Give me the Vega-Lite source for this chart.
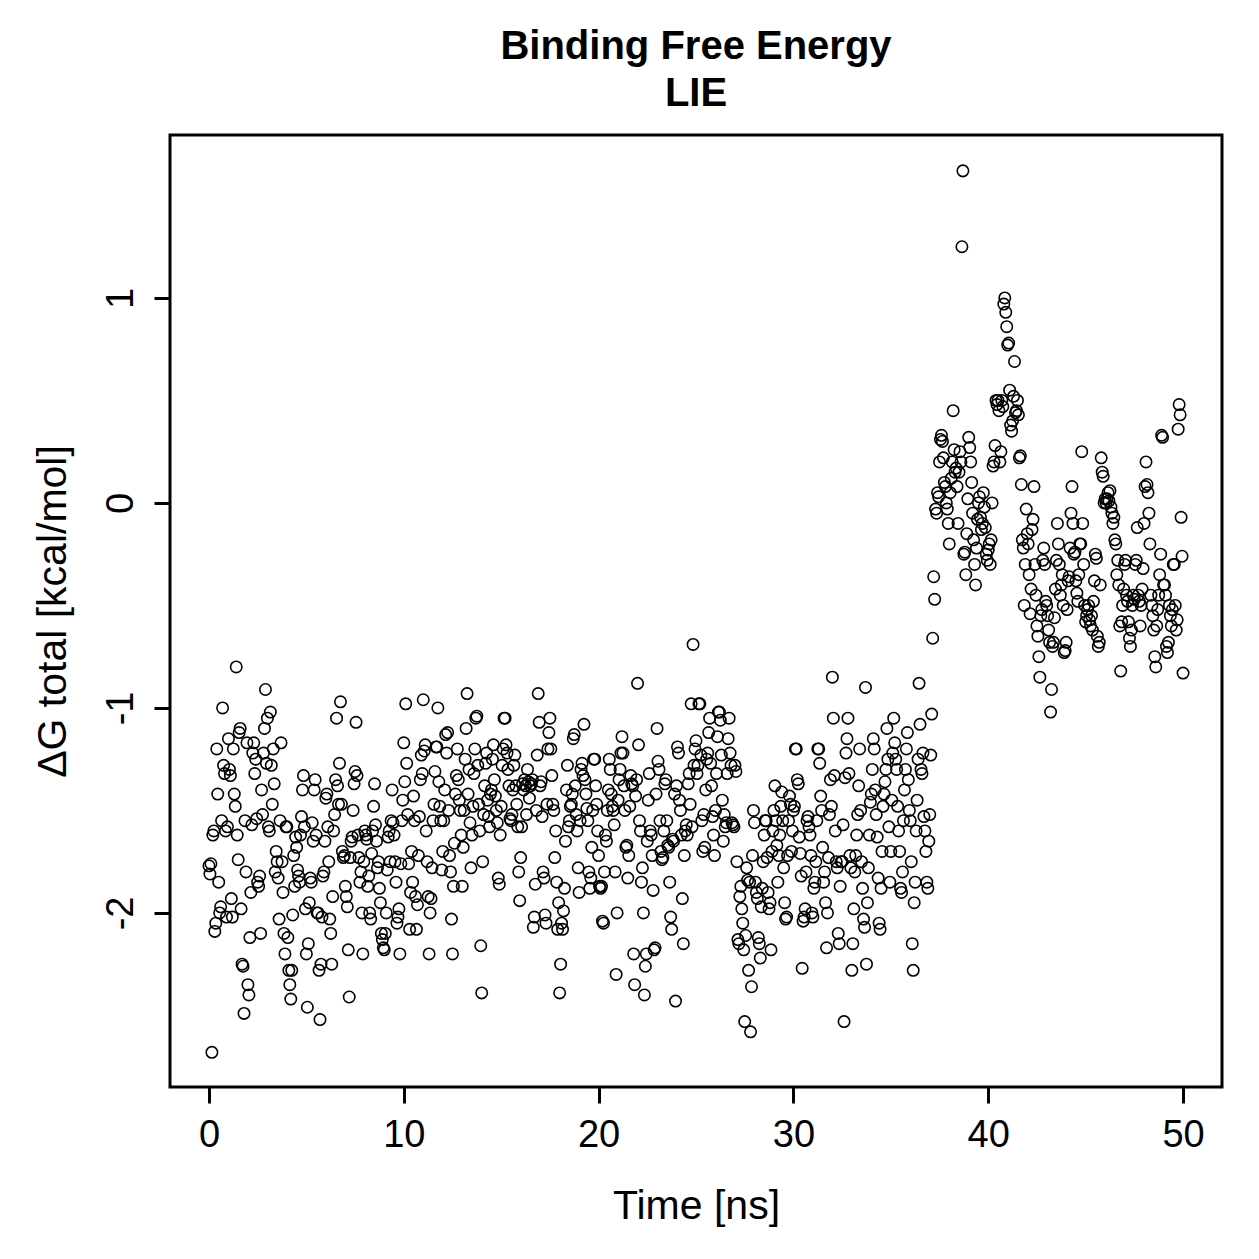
{
"$schema": "https://vega.github.io/schema/vega-lite/v6.json",
"autosize": "none",
"width": 1052,
"height": 952,
"padding": {"left": 170, "top": 135, "right": 37, "bottom": 172},
"background": "white",
"config": {"view": {"stroke": "black", "strokeWidth": 3}, "font": "Liberation Sans"},
"title": {"text": ["Binding Free Energy", "LIE"], "fontSize": 40, "fontWeight": "bold", "font": "Liberation Sans", "color": "black", "anchor": "middle", "frame": "group", "lineHeight": 47, "offset": 21},
"data": {"values": [
{"t":0,"g":-1.77},{"t":0.05,"g":-1.81},{"t":0.1,"g":-1.76},{"t":0.15,"g":-2.68},{"t":0.2,"g":-1.62},{"t":0.25,"g":-1.6},{"t":0.3,"g":-2.09},{"t":0.35,"g":-2.05},{"t":0.4,"g":-1.2},{"t":0.45,"g":-1.42},{"t":0.5,"g":-1.85},{"t":0.55,"g":-2.0},{"t":0.6,"g":-1.97},{"t":0.65,"g":-1.55},{"t":0.7,"g":-1.0},{"t":0.75,"g":-1.28},{"t":0.8,"g":-1.32},{"t":0.85,"g":-1.6},{"t":0.9,"g":-2.02},{"t":0.95,"g":-1.58},
{"t":1,"g":-1.15},{"t":1.05,"g":-1.3},{"t":1.1,"g":-1.33},{"t":1.15,"g":-1.93},{"t":1.2,"g":-2.02},{"t":1.25,"g":-1.2},{"t":1.3,"g":-1.42},{"t":1.35,"g":-1.48},{"t":1.4,"g":-0.8},{"t":1.45,"g":-1.62},{"t":1.5,"g":-1.74},{"t":1.55,"g":-1.12},{"t":1.6,"g":-1.1},{"t":1.65,"g":-1.98},{"t":1.7,"g":-2.25},{"t":1.75,"g":-2.26},{"t":1.8,"g":-2.49},{"t":1.85,"g":-1.55},{"t":1.9,"g":-1.8},{"t":1.95,"g":-1.17},
{"t":2,"g":-2.35},{"t":2.05,"g":-2.4},{"t":2.1,"g":-2.12},{"t":2.15,"g":-1.9},{"t":2.2,"g":-1.57},{"t":2.25,"g":-1.22},{"t":2.3,"g":-1.17},{"t":2.35,"g":-1.32},{"t":2.4,"g":-1.25},{"t":2.45,"g":-1.54},{"t":2.5,"g":-1.85},{"t":2.55,"g":-1.87},{"t":2.6,"g":-1.82},{"t":2.65,"g":-2.1},{"t":2.7,"g":-1.4},{"t":2.75,"g":-1.52},{"t":2.8,"g":-1.22},{"t":2.85,"g":-1.1},{"t":2.9,"g":-0.91},{"t":2.95,"g":-1.27},
{"t":3,"g":-1.05},{"t":3.05,"g":-1.58},{"t":3.1,"g":-1.6},{"t":3.15,"g":-1.02},{"t":3.2,"g":-1.28},{"t":3.25,"g":-1.47},{"t":3.3,"g":-1.2},{"t":3.35,"g":-1.37},{"t":3.4,"g":-1.8},{"t":3.45,"g":-1.7},{"t":3.5,"g":-1.75},{"t":3.55,"g":-1.83},{"t":3.6,"g":-2.03},{"t":3.65,"g":-1.55},{"t":3.7,"g":-1.17},{"t":3.75,"g":-1.75},{"t":3.8,"g":-1.9},{"t":3.85,"g":-2.1},{"t":3.9,"g":-2.2},{"t":3.95,"g":-1.58},
{"t":4,"g":-1.58},{"t":4.05,"g":-2.12},{"t":4.1,"g":-2.28},{"t":4.15,"g":-2.35},{"t":4.2,"g":-2.42},{"t":4.25,"g":-2.28},{"t":4.3,"g":-2.01},{"t":4.35,"g":-1.72},{"t":4.4,"g":-1.87},{"t":4.45,"g":-1.63},{"t":4.5,"g":-1.68},{"t":4.55,"g":-1.79},{"t":4.6,"g":-1.82},{"t":4.65,"g":-1.85},{"t":4.7,"g":-1.62},{"t":4.75,"g":-1.53},{"t":4.8,"g":-1.4},{"t":4.85,"g":-1.33},{"t":4.9,"g":-1.58},{"t":4.95,"g":-1.98},
{"t":5,"g":-2.2},{"t":5.05,"g":-2.46},{"t":5.1,"g":-2.15},{"t":5.15,"g":-1.95},{"t":5.2,"g":-1.83},{"t":5.25,"g":-1.85},{"t":5.3,"g":-1.56},{"t":5.35,"g":-1.65},{"t":5.4,"g":-1.4},{"t":5.45,"g":-1.35},{"t":5.5,"g":-1.62},{"t":5.55,"g":-2.0},{"t":5.6,"g":-2.0},{"t":5.65,"g":-2.28},{"t":5.7,"g":-2.52},{"t":5.75,"g":-2.25},{"t":5.8,"g":-2.02},{"t":5.85,"g":-1.82},{"t":5.9,"g":-1.8},{"t":5.95,"g":-1.65},
{"t":6,"g":-1.44},{"t":6.05,"g":-1.42},{"t":6.1,"g":-1.58},{"t":6.15,"g":-1.75},{"t":6.2,"g":-2.03},{"t":6.25,"g":-2.1},{"t":6.3,"g":-2.25},{"t":6.35,"g":-1.92},{"t":6.4,"g":-1.6},{"t":6.45,"g":-1.52},{"t":6.5,"g":-1.35},{"t":6.55,"g":-1.05},{"t":6.6,"g":-1.38},{"t":6.65,"g":-1.47},{"t":6.7,"g":-1.27},{"t":6.75,"g":-0.97},{"t":6.8,"g":-1.47},{"t":6.85,"g":-1.7},{"t":6.9,"g":-1.73},{"t":6.95,"g":-1.72},
{"t":7,"g":-1.87},{"t":7.05,"g":-1.92},{"t":7.1,"g":-1.97},{"t":7.15,"g":-2.18},{"t":7.2,"g":-2.41},{"t":7.25,"g":-1.73},{"t":7.3,"g":-1.65},{"t":7.35,"g":-1.63},{"t":7.4,"g":-1.5},{"t":7.45,"g":-1.37},{"t":7.5,"g":-1.31},{"t":7.55,"g":-1.07},{"t":7.6,"g":-1.33},{"t":7.65,"g":-1.62},{"t":7.7,"g":-1.73},{"t":7.75,"g":-1.85},{"t":7.8,"g":-1.8},{"t":7.85,"g":-2.0},{"t":7.9,"g":-2.2},{"t":7.95,"g":-1.75},
{"t":8,"g":-1.6},{"t":8.05,"g":-1.62},{"t":8.1,"g":-1.64},{"t":8.15,"g":-1.87},{"t":8.2,"g":-1.82},{"t":8.25,"g":-2.0},{"t":8.3,"g":-2.03},{"t":8.35,"g":-1.71},{"t":8.4,"g":-1.6},{"t":8.45,"g":-1.48},{"t":8.5,"g":-1.37},{"t":8.55,"g":-1.57},{"t":8.6,"g":-1.65},{"t":8.65,"g":-1.78},{"t":8.7,"g":-1.75},{"t":8.75,"g":-1.88},{"t":8.8,"g":-1.95},{"t":8.85,"g":-2.1},{"t":8.9,"g":-2.13},{"t":8.95,"g":-2.17},
{"t":9,"g":-2.18},{"t":9.05,"g":-2.1},{"t":9.1,"g":-2.0},{"t":9.15,"g":-1.79},{"t":9.2,"g":-1.63},{"t":9.25,"g":-1.6},{"t":9.3,"g":-1.75},{"t":9.35,"g":-1.55},{"t":9.4,"g":-1.4},{"t":9.45,"g":-1.56},{"t":9.5,"g":-1.62},{"t":9.55,"g":-1.75},{"t":9.6,"g":-1.85},{"t":9.65,"g":-2.05},{"t":9.7,"g":-2.02},{"t":9.75,"g":-1.98},{"t":9.8,"g":-2.2},{"t":9.85,"g":-1.76},{"t":9.9,"g":-1.55},{"t":9.95,"g":-1.45},
{"t":10,"g":-1.17},{"t":10.05,"g":-1.36},{"t":10.1,"g":-0.98},{"t":10.15,"g":-1.27},{"t":10.2,"g":-1.52},{"t":10.25,"g":-1.76},{"t":10.3,"g":-2.08},{"t":10.35,"g":-1.9},{"t":10.4,"g":-1.7},{"t":10.45,"g":-1.85},{"t":10.5,"g":-1.43},{"t":10.55,"g":-1.55},{"t":10.6,"g":-1.92},{"t":10.65,"g":-2.08},{"t":10.7,"g":-1.96},{"t":10.75,"g":-1.72},{"t":10.8,"g":-1.53},{"t":10.85,"g":-1.35},{"t":10.9,"g":-1.23},{"t":10.95,"g":-1.32},
{"t":11,"g":-0.96},{"t":11.05,"g":-1.21},{"t":11.1,"g":-1.18},{"t":11.15,"g":-1.6},{"t":11.2,"g":-1.75},{"t":11.25,"g":-1.92},{"t":11.3,"g":-2.2},{"t":11.35,"g":-2.0},{"t":11.4,"g":-1.93},{"t":11.45,"g":-1.78},{"t":11.5,"g":-1.55},{"t":11.55,"g":-1.47},{"t":11.6,"g":-1.31},{"t":11.65,"g":-1.19},{"t":11.7,"g":-1.19},{"t":11.75,"g":-1.0},{"t":11.8,"g":-1.36},{"t":11.85,"g":-1.48},{"t":11.9,"g":-1.55},{"t":11.95,"g":-1.79},
{"t":12,"g":-1.7},{"t":12.05,"g":-1.55},{"t":12.1,"g":-1.4},{"t":12.15,"g":-1.13},{"t":12.2,"g":-1.22},{"t":12.25,"g":-1.12},{"t":12.3,"g":-1.5},{"t":12.35,"g":-1.72},{"t":12.4,"g":-1.8},{"t":12.45,"g":-2.03},{"t":12.5,"g":-2.2},{"t":12.55,"g":-1.87},{"t":12.6,"g":-1.66},{"t":12.65,"g":-1.42},{"t":12.7,"g":-1.33},{"t":12.75,"g":-1.2},{"t":12.8,"g":-1.35},{"t":12.85,"g":-1.45},{"t":12.9,"g":-1.5},{"t":12.95,"g":-1.62},
{"t":13,"g":-1.87},{"t":13.05,"g":-1.68},{"t":13.1,"g":-1.5},{"t":13.15,"g":-1.25},{"t":13.2,"g":-1.1},{"t":13.25,"g":-0.93},{"t":13.3,"g":-1.42},{"t":13.35,"g":-1.3},{"t":13.4,"g":-1.56},{"t":13.45,"g":-1.78},{"t":13.5,"g":-1.62},{"t":13.55,"g":-1.48},{"t":13.6,"g":-1.32},{"t":13.65,"g":-1.2},{"t":13.7,"g":-1.05},{"t":13.75,"g":-1.04},{"t":13.8,"g":-1.28},{"t":13.85,"g":-1.47},{"t":13.9,"g":-1.6},{"t":13.95,"g":-2.16},
{"t":14,"g":-2.39},{"t":14.05,"g":-1.75},{"t":14.1,"g":-1.52},{"t":14.15,"g":-1.38},{"t":14.2,"g":-1.27},{"t":14.25,"g":-1.22},{"t":14.3,"g":-1.45},{"t":14.35,"g":-1.53},{"t":14.4,"g":-1.58},{"t":14.45,"g":-1.42},{"t":14.5,"g":-1.4},{"t":14.55,"g":-1.25},{"t":14.6,"g":-1.18},{"t":14.65,"g":-1.35},{"t":14.7,"g":-1.43},{"t":14.75,"g":-1.5},{"t":14.8,"g":-1.56},{"t":14.85,"g":-1.83},{"t":14.9,"g":-1.86},{"t":14.95,"g":-1.62},
{"t":15,"g":-1.48},{"t":15.05,"g":-1.28},{"t":15.1,"g":-1.2},{"t":15.15,"g":-1.05},{"t":15.2,"g":-1.05},{"t":15.25,"g":-1.18},{"t":15.3,"g":-1.22},{"t":15.35,"g":-1.3},{"t":15.4,"g":-1.38},{"t":15.45,"g":-1.54},{"t":15.5,"g":-1.55},{"t":15.55,"g":-1.52},{"t":15.6,"g":-1.4},{"t":15.65,"g":-1.28},{"t":15.7,"g":-1.23},{"t":15.75,"g":-1.38},{"t":15.8,"g":-1.47},{"t":15.85,"g":-1.58},{"t":15.9,"g":-1.8},{"t":15.95,"g":-1.94},
{"t":16,"g":-1.73},{"t":16.05,"g":-1.58},{"t":16.1,"g":-1.37},{"t":16.15,"g":-1.4},{"t":16.2,"g":-1.35},{"t":16.25,"g":-1.38},{"t":16.3,"g":-1.52},{"t":16.35,"g":-1.3},{"t":16.4,"g":-1.36},{"t":16.45,"g":-1.44},{"t":16.5,"g":-1.38},{"t":16.55,"g":-1.37},{"t":16.6,"g":-1.35},{"t":16.65,"g":-2.07},{"t":16.7,"g":-2.02},{"t":16.75,"g":-1.86},{"t":16.8,"g":-1.5},{"t":16.85,"g":-1.23},{"t":16.9,"g":-0.93},{"t":16.95,"g":-1.07},
{"t":17,"g":-1.38},{"t":17.05,"g":-1.36},{"t":17.1,"g":-1.53},{"t":17.15,"g":-1.8},{"t":17.2,"g":-1.83},{"t":17.25,"g":-2.01},{"t":17.3,"g":-2.05},{"t":17.35,"g":-1.47},{"t":17.4,"g":-1.2},{"t":17.45,"g":-1.12},{"t":17.5,"g":-1.05},{"t":17.55,"g":-1.2},{"t":17.6,"g":-1.33},{"t":17.65,"g":-1.47},{"t":17.7,"g":-1.5},{"t":17.75,"g":-1.73},{"t":17.8,"g":-1.6},{"t":17.85,"g":-1.85},{"t":17.9,"g":-2.08},{"t":17.95,"g":-1.95},
{"t":18,"g":-2.39},{"t":18.05,"g":-2.25},{"t":18.1,"g":-2.05},{"t":18.15,"g":-2.08},{"t":18.2,"g":-1.99},{"t":18.25,"g":-1.88},{"t":18.3,"g":-1.65},{"t":18.35,"g":-1.4},{"t":18.4,"g":-1.28},{"t":18.45,"g":-1.58},{"t":18.5,"g":-1.55},{"t":18.55,"g":-1.48},{"t":18.6,"g":-1.47},{"t":18.65,"g":-1.42},{"t":18.7,"g":-1.15},{"t":18.75,"g":-1.13},{"t":18.8,"g":-1.38},{"t":18.85,"g":-1.52},{"t":18.9,"g":-1.6},{"t":18.95,"g":-1.78},
{"t":19,"g":-1.9},{"t":19.05,"g":-1.55},{"t":19.1,"g":-1.3},{"t":19.15,"g":-1.27},{"t":19.2,"g":-1.33},{"t":19.25,"g":-1.08},{"t":19.3,"g":-1.35},{"t":19.35,"g":-1.42},{"t":19.4,"g":-1.49},{"t":19.45,"g":-1.55},{"t":19.5,"g":-1.8},{"t":19.55,"g":-1.88},{"t":19.6,"g":-1.83},{"t":19.65,"g":-1.68},{"t":19.7,"g":-1.5},{"t":19.75,"g":-1.25},{"t":19.8,"g":-1.25},{"t":19.85,"g":-1.38},{"t":19.9,"g":-1.47},{"t":19.95,"g":-1.6},
{"t":20,"g":-1.72},{"t":20.05,"g":-1.87},{"t":20.1,"g":-1.88},{"t":20.15,"g":-1.87},{"t":20.2,"g":-2.04},{"t":20.25,"g":-2.05},{"t":20.3,"g":-1.8},{"t":20.35,"g":-1.62},{"t":20.4,"g":-1.65},{"t":20.45,"g":-1.5},{"t":20.5,"g":-1.4},{"t":20.55,"g":-1.25},{"t":20.6,"g":-1.3},{"t":20.65,"g":-1.42},{"t":20.7,"g":-1.48},{"t":20.75,"g":-1.5},{"t":20.8,"g":-1.57},{"t":20.85,"g":-1.8},{"t":20.9,"g":-2.3},{"t":20.95,"g":-2.0},
{"t":21,"g":-1.45},{"t":21.05,"g":-1.35},{"t":21.1,"g":-1.3},{"t":21.15,"g":-1.22},{"t":21.2,"g":-1.14},{"t":21.25,"g":-1.22},{"t":21.3,"g":-1.38},{"t":21.35,"g":-1.5},{"t":21.4,"g":-1.68},{"t":21.45,"g":-1.67},{"t":21.5,"g":-1.83},{"t":21.55,"g":-1.72},{"t":21.6,"g":-1.48},{"t":21.65,"g":-1.33},{"t":21.7,"g":-1.37},{"t":21.75,"g":-1.38},{"t":21.8,"g":-2.2},{"t":21.85,"g":-2.35},{"t":21.9,"g":-1.43},{"t":21.95,"g":-1.35},
{"t":22,"g":-0.88},{"t":22.05,"g":-1.18},{"t":22.1,"g":-1.55},{"t":22.15,"g":-1.6},{"t":22.2,"g":-1.85},{"t":22.25,"g":-1.78},{"t":22.3,"g":-2.0},{"t":22.35,"g":-2.4},{"t":22.4,"g":-2.26},{"t":22.45,"g":-2.2},{"t":22.5,"g":-1.65},{"t":22.55,"g":-1.45},{"t":22.6,"g":-1.32},{"t":22.65,"g":-1.6},{"t":22.7,"g":-1.62},{"t":22.75,"g":-1.72},{"t":22.8,"g":-1.89},{"t":22.85,"g":-2.18},{"t":22.9,"g":-2.17},{"t":22.95,"g":-1.42},
{"t":23,"g":-1.1},{"t":23.05,"g":-1.26},{"t":23.1,"g":-1.3},{"t":23.15,"g":-1.55},{"t":23.2,"g":-1.7},{"t":23.25,"g":-1.74},{"t":23.3,"g":-1.73},{"t":23.35,"g":-1.6},{"t":23.4,"g":-1.37},{"t":23.45,"g":-1.35},{"t":23.5,"g":-1.55},{"t":23.55,"g":-1.67},{"t":23.6,"g":-1.68},{"t":23.65,"g":-1.85},{"t":23.7,"g":-2.02},{"t":23.75,"g":-2.08},{"t":23.8,"g":-1.64},{"t":23.85,"g":-1.65},{"t":23.9,"g":-1.42},{"t":23.95,"g":-2.43},
{"t":24,"g":-1.38},{"t":24.05,"g":-1.19},{"t":24.1,"g":-1.22},{"t":24.15,"g":-1.45},{"t":24.2,"g":-1.5},{"t":24.25,"g":-1.62},{"t":24.3,"g":-1.93},{"t":24.35,"g":-2.15},{"t":24.4,"g":-1.72},{"t":24.45,"g":-1.6},{"t":24.5,"g":-1.57},{"t":24.55,"g":-1.62},{"t":24.6,"g":-1.37},{"t":24.65,"g":-1.32},{"t":24.7,"g":-1.47},{"t":24.75,"g":-0.98},{"t":24.8,"g":-1.58},{"t":24.85,"g":-0.69},{"t":24.9,"g":-1.28},{"t":24.95,"g":-1.2},
{"t":25,"g":-1.16},{"t":25.05,"g":-1.32},{"t":25.1,"g":-1.28},{"t":25.15,"g":-0.98},{"t":25.2,"g":-0.98},{"t":25.25,"g":-1.23},{"t":25.3,"g":-1.55},{"t":25.35,"g":-1.7},{"t":25.4,"g":-1.52},{"t":25.45,"g":-1.68},{"t":25.5,"g":-1.4},{"t":25.55,"g":-1.25},{"t":25.6,"g":-1.22},{"t":25.65,"g":-1.12},{"t":25.7,"g":-1.05},{"t":25.75,"g":-1.27},{"t":25.8,"g":-1.38},{"t":25.85,"g":-1.53},{"t":25.9,"g":-1.62},{"t":25.95,"g":-1.72},
{"t":26,"g":-1.5},{"t":26.05,"g":-1.32},{"t":26.1,"g":-1.14},{"t":26.15,"g":-1.02},{"t":26.2,"g":-1.02},{"t":26.25,"g":-1.06},{"t":26.3,"g":-1.23},{"t":26.35,"g":-1.45},{"t":26.4,"g":-1.65},{"t":26.45,"g":-1.52},{"t":26.5,"g":-1.58},{"t":26.55,"g":-1.56},{"t":26.6,"g":-1.32},{"t":26.65,"g":-1.15},{"t":26.7,"g":-1.05},{"t":26.75,"g":-1.22},{"t":26.8,"g":-1.28},{"t":26.85,"g":-1.56},{"t":26.9,"g":-1.57},{"t":26.95,"g":-1.58},
{"t":27,"g":-1.28},{"t":27.05,"g":-1.31},{"t":27.1,"g":-1.75},{"t":27.15,"g":-2.13},{"t":27.2,"g":-2.15},{"t":27.25,"g":-1.92},{"t":27.3,"g":-1.87},{"t":27.35,"g":-1.98},{"t":27.4,"g":-2.05},{"t":27.45,"g":-2.18},{"t":27.5,"g":-2.53},{"t":27.55,"g":-2.11},{"t":27.6,"g":-1.78},{"t":27.65,"g":-1.84},{"t":27.7,"g":-2.28},{"t":27.75,"g":-1.85},{"t":27.8,"g":-2.58},{"t":27.85,"g":-2.36},{"t":27.9,"g":-1.72},{"t":27.95,"g":-1.5},
{"t":28,"g":-1.56},{"t":28.05,"g":-1.85},{"t":28.1,"g":-1.9},{"t":28.15,"g":-1.93},{"t":28.2,"g":-2.12},{"t":28.25,"g":-2.15},{"t":28.3,"g":-2.22},{"t":28.35,"g":-1.97},{"t":28.4,"g":-1.88},{"t":28.45,"g":-1.75},{"t":28.5,"g":-1.62},{"t":28.55,"g":-1.55},{"t":28.6,"g":-1.55},{"t":28.65,"g":-1.73},{"t":28.7,"g":-1.9},{"t":28.75,"g":-1.98},{"t":28.8,"g":-1.95},{"t":28.85,"g":-2.18},{"t":28.9,"g":-1.7},{"t":28.95,"g":-1.6},
{"t":29,"g":-1.5},{"t":29.05,"g":-1.38},{"t":29.1,"g":-1.55},{"t":29.15,"g":-1.67},{"t":29.2,"g":-1.85},{"t":29.25,"g":-1.72},{"t":29.3,"g":-1.62},{"t":29.35,"g":-1.48},{"t":29.4,"g":-1.41},{"t":29.45,"g":-1.55},{"t":29.5,"g":-1.78},{"t":29.55,"g":-1.95},{"t":29.6,"g":-2.03},{"t":29.65,"g":-2.02},{"t":29.7,"g":-1.72},{"t":29.75,"g":-1.55},{"t":29.8,"g":-1.43},{"t":29.85,"g":-1.47},{"t":29.9,"g":-1.7},{"t":29.95,"g":-1.6},
{"t":30,"g":-1.5},{"t":30.05,"g":-1.48},{"t":30.1,"g":-1.2},{"t":30.15,"g":-1.2},{"t":30.2,"g":-1.35},{"t":30.25,"g":-1.37},{"t":30.3,"g":-1.63},{"t":30.35,"g":-1.71},{"t":30.4,"g":-1.82},{"t":30.45,"g":-2.27},{"t":30.5,"g":-2.04},{"t":30.55,"g":-2.02},{"t":30.6,"g":-1.98},{"t":30.65,"g":-1.8},{"t":30.7,"g":-1.55},{"t":30.75,"g":-1.53},{"t":30.8,"g":-1.58},{"t":30.85,"g":-1.62},{"t":30.9,"g":-1.72},{"t":30.95,"g":-2.0},
{"t":31,"g":-2.02},{"t":31.05,"g":-1.88},{"t":31.1,"g":-1.85},{"t":31.15,"g":-1.75},{"t":31.2,"g":-1.55},{"t":31.25,"g":-1.2},{"t":31.3,"g":-1.2},{"t":31.35,"g":-1.27},{"t":31.4,"g":-1.43},{"t":31.45,"g":-1.5},{"t":31.5,"g":-1.68},{"t":31.55,"g":-1.85},{"t":31.6,"g":-1.8},{"t":31.65,"g":-1.95},{"t":31.7,"g":-2.17},{"t":31.75,"g":-2.0},{"t":31.8,"g":-1.73},{"t":31.85,"g":-1.52},{"t":31.9,"g":-1.35},{"t":31.95,"g":-1.48},
{"t":32,"g":-0.85},{"t":32.05,"g":-1.05},{"t":32.1,"g":-1.33},{"t":32.15,"g":-1.6},{"t":32.2,"g":-1.75},{"t":32.25,"g":-1.78},{"t":32.3,"g":-2.1},{"t":32.35,"g":-2.15},{"t":32.4,"g":-1.87},{"t":32.45,"g":-1.75},{"t":32.5,"g":-1.75},{"t":32.55,"g":-1.57},{"t":32.6,"g":-2.53},{"t":32.65,"g":-1.34},{"t":32.7,"g":-1.22},{"t":32.75,"g":-1.15},{"t":32.8,"g":-1.05},{"t":32.85,"g":-1.32},{"t":32.9,"g":-1.72},{"t":32.95,"g":-1.78},
{"t":33,"g":-2.28},{"t":33.05,"g":-2.15},{"t":33.1,"g":-1.98},{"t":33.15,"g":-1.8},{"t":33.2,"g":-1.72},{"t":33.25,"g":-1.62},{"t":33.3,"g":-1.52},{"t":33.35,"g":-1.38},{"t":33.4,"g":-1.2},{"t":33.45,"g":-1.5},{"t":33.5,"g":-1.75},{"t":33.55,"g":-1.88},{"t":33.6,"g":-2.03},{"t":33.65,"g":-2.07},{"t":33.7,"g":-0.9},{"t":33.75,"g":-2.25},{"t":33.8,"g":-1.95},{"t":33.85,"g":-1.78},{"t":33.9,"g":-1.62},{"t":33.95,"g":-1.46},
{"t":34,"g":-1.42},{"t":34.05,"g":-1.3},{"t":34.1,"g":-1.15},{"t":34.15,"g":-1.2},{"t":34.2,"g":-1.4},{"t":34.25,"g":-1.52},{"t":34.3,"g":-1.63},{"t":34.35,"g":-1.83},{"t":34.4,"g":-2.05},{"t":34.45,"g":-2.08},{"t":34.5,"g":-1.88},{"t":34.55,"g":-1.7},{"t":34.6,"g":-1.48},{"t":34.65,"g":-1.42},{"t":34.7,"g":-1.36},{"t":34.75,"g":-1.3},{"t":34.8,"g":-1.1},{"t":34.85,"g":-1.25},{"t":34.9,"g":-1.58},{"t":34.95,"g":-1.85},
{"t":35,"g":-1.7},{"t":35.05,"g":-1.45},{"t":35.1,"g":-1.22},{"t":35.15,"g":-1.05},{"t":35.2,"g":-1.17},{"t":35.25,"g":-1.25},{"t":35.3,"g":-1.3},{"t":35.35,"g":-1.48},{"t":35.4,"g":-1.6},{"t":35.45,"g":-1.7},{"t":35.5,"g":-1.88},{"t":35.55,"g":-1.9},{"t":35.6,"g":-1.8},{"t":35.65,"g":-1.55},{"t":35.7,"g":-1.4},{"t":35.75,"g":-1.3},{"t":35.8,"g":-1.2},{"t":35.85,"g":-1.12},{"t":35.9,"g":-1.35},{"t":35.95,"g":-1.5},
{"t":36,"g":-1.55},{"t":36.05,"g":-1.75},{"t":36.1,"g":-2.15},{"t":36.15,"g":-2.28},{"t":36.2,"g":-1.95},{"t":36.25,"g":-1.85},{"t":36.3,"g":-1.6},{"t":36.35,"g":-1.45},{"t":36.4,"g":-1.25},{"t":36.45,"g":-0.88},{"t":36.5,"g":-1.08},{"t":36.55,"g":-1.3},{"t":36.6,"g":-1.32},{"t":36.65,"g":-1.22},{"t":36.7,"g":-1.53},{"t":36.75,"g":-1.6},{"t":36.8,"g":-1.7},{"t":36.85,"g":-1.85},{"t":36.9,"g":-1.88},{"t":36.95,"g":-1.65},
{"t":37,"g":-1.52},{"t":37.05,"g":-1.23},{"t":37.1,"g":-1.03},{"t":37.15,"g":-0.66},{"t":37.2,"g":-0.36},{"t":37.25,"g":-0.47},{"t":37.3,"g":-0.03},{"t":37.35,"g":-0.05},{"t":37.4,"g":0.05},{"t":37.45,"g":0.03},{"t":37.5,"g":0.2},{"t":37.55,"g":0.31},{"t":37.6,"g":0.33},{"t":37.65,"g":0.3},{"t":37.7,"g":0.22},{"t":37.75,"g":0.1},{"t":37.8,"g":0.08},{"t":37.85,"g":0.0},{"t":37.9,"g":-0.03},{"t":37.95,"g":-0.1},
{"t":38,"g":-0.2},{"t":38.05,"g":0.05},{"t":38.1,"g":0.12},{"t":38.15,"g":0.2},{"t":38.2,"g":0.45},{"t":38.25,"g":0.26},{"t":38.3,"g":0.15},{"t":38.35,"g":0.17},{"t":38.4,"g":0.08},{"t":38.45,"g":-0.1},{"t":38.5,"g":0.15},{"t":38.55,"g":0.25},{"t":38.6,"g":0.2},{"t":38.65,"g":1.25},{"t":38.7,"g":1.62},{"t":38.75,"g":-0.25},{"t":38.8,"g":-0.24},{"t":38.85,"g":-0.35},{"t":38.9,"g":-0.15},{"t":38.95,"g":0.02},
{"t":39,"g":0.32},{"t":39.05,"g":0.27},{"t":39.1,"g":0.2},{"t":39.15,"g":0.1},{"t":39.2,"g":-0.05},{"t":39.25,"g":-0.18},{"t":39.3,"g":-0.3},{"t":39.35,"g":-0.4},{"t":39.4,"g":-0.22},{"t":39.45,"g":-0.08},{"t":39.5,"g":0.0},{"t":39.55,"g":0.03},{"t":39.6,"g":-0.07},{"t":39.65,"g":-0.13},{"t":39.7,"g":-0.1},{"t":39.75,"g":0.05},{"t":39.8,"g":-0.02},{"t":39.85,"g":-0.12},{"t":39.9,"g":-0.25},{"t":39.95,"g":-0.28},
{"t":40,"g":-0.23},{"t":40.05,"g":-0.2},{"t":40.1,"g":-0.3},{"t":40.15,"g":-0.18},{"t":40.2,"g":0.0},{"t":40.25,"g":0.18},{"t":40.3,"g":0.2},{"t":40.35,"g":0.28},{"t":40.4,"g":0.5},{"t":40.45,"g":0.48},{"t":40.5,"g":0.5},{"t":40.55,"g":0.45},{"t":40.6,"g":0.2},{"t":40.65,"g":0.25},{"t":40.7,"g":0.5},{"t":40.75,"g":0.47},{"t":40.8,"g":0.97},{"t":40.85,"g":1.0},{"t":40.9,"g":0.93},{"t":40.95,"g":0.86},
{"t":41,"g":0.77},{"t":41.05,"g":0.78},{"t":41.1,"g":0.55},{"t":41.15,"g":0.38},{"t":41.2,"g":0.35},{"t":41.25,"g":0.4},{"t":41.3,"g":0.52},{"t":41.35,"g":0.69},{"t":41.4,"g":0.44},{"t":41.45,"g":0.45},{"t":41.5,"g":0.5},{"t":41.55,"g":0.43},{"t":41.6,"g":0.22},{"t":41.65,"g":0.23},{"t":41.7,"g":0.09},{"t":41.75,"g":-0.18},{"t":41.8,"g":-0.22},{"t":41.85,"g":-0.5},{"t":41.9,"g":-0.3},{"t":41.95,"g":-0.03},
{"t":42,"g":-0.15},{"t":42.05,"g":-0.2},{"t":42.1,"g":-0.35},{"t":42.15,"g":-0.54},{"t":42.2,"g":-0.42},{"t":42.25,"g":-0.13},{"t":42.3,"g":-0.08},{"t":42.35,"g":0.08},{"t":42.4,"g":-0.3},{"t":42.45,"g":-0.45},{"t":42.5,"g":-0.6},{"t":42.55,"g":-0.65},{"t":42.6,"g":-0.75},{"t":42.65,"g":-0.85},{"t":42.7,"g":-0.55},{"t":42.75,"g":-0.52},{"t":42.8,"g":-0.28},{"t":42.85,"g":-0.22},{"t":42.9,"g":-0.3},{"t":42.95,"g":-0.48},
{"t":43,"g":-0.5},{"t":43.05,"g":-0.55},{"t":43.1,"g":-0.62},{"t":43.15,"g":-0.68},{"t":43.2,"g":-1.02},{"t":43.25,"g":-0.91},{"t":43.3,"g":-0.7},{"t":43.35,"g":-0.68},{"t":43.4,"g":-0.56},{"t":43.45,"g":-0.42},{"t":43.5,"g":-0.28},{"t":43.55,"g":-0.1},{"t":43.6,"g":-0.2},{"t":43.65,"g":-0.3},{"t":43.7,"g":-0.45},{"t":43.75,"g":-0.4},{"t":43.8,"g":-0.35},{"t":43.85,"g":-0.5},{"t":43.9,"g":-0.73},{"t":43.95,"g":-0.72},
{"t":44,"g":-0.68},{"t":44.05,"g":-0.52},{"t":44.1,"g":-0.38},{"t":44.15,"g":-0.36},{"t":44.2,"g":-0.22},{"t":44.25,"g":-0.05},{"t":44.3,"g":0.08},{"t":44.35,"g":-0.1},{"t":44.4,"g":-0.25},{"t":44.45,"g":-0.24},{"t":44.5,"g":-0.38},{"t":44.55,"g":-0.44},{"t":44.6,"g":-0.48},{"t":44.65,"g":-0.35},{"t":44.7,"g":-0.2},{"t":44.75,"g":-0.2},{"t":44.8,"g":0.25},{"t":44.85,"g":-0.1},{"t":44.9,"g":-0.3},{"t":44.95,"g":-0.5},
{"t":45,"g":-0.58},{"t":45.05,"g":-0.55},{"t":45.1,"g":-0.52},{"t":45.15,"g":-0.5},{"t":45.2,"g":-0.57},{"t":45.25,"g":-0.6},{"t":45.3,"g":-0.55},{"t":45.35,"g":-0.62},{"t":45.4,"g":-0.48},{"t":45.45,"g":-0.38},{"t":45.5,"g":-0.25},{"t":45.55,"g":-0.27},{"t":45.6,"g":-0.65},{"t":45.65,"g":-0.7},{"t":45.7,"g":-0.68},{"t":45.75,"g":-0.4},{"t":45.8,"g":0.22},{"t":45.85,"g":0.15},{"t":45.9,"g":0.13},{"t":45.95,"g":0.0},
{"t":46,"g":0.02},{"t":46.05,"g":0.0},{"t":46.1,"g":0.02},{"t":46.15,"g":0.05},{"t":46.2,"g":0.01},{"t":46.25,"g":0.06},{"t":46.3,"g":-0.02},{"t":46.35,"g":-0.05},{"t":46.4,"g":-0.1},{"t":46.45,"g":-0.07},{"t":46.5,"g":-0.18},{"t":46.55,"g":-0.2},{"t":46.6,"g":-0.35},{"t":46.65,"g":-0.28},{"t":46.7,"g":-0.4},{"t":46.75,"g":-0.6},{"t":46.8,"g":-0.82},{"t":46.85,"g":-0.58},{"t":46.9,"g":-0.5},{"t":46.95,"g":-0.42},
{"t":47,"g":-0.3},{"t":47.05,"g":-0.28},{"t":47.1,"g":-0.45},{"t":47.15,"g":-0.48},{"t":47.2,"g":-0.58},{"t":47.25,"g":-0.66},{"t":47.3,"g":-0.7},{"t":47.35,"g":-0.62},{"t":47.4,"g":-0.5},{"t":47.45,"g":-0.45},{"t":47.5,"g":-0.47},{"t":47.55,"g":-0.3},{"t":47.6,"g":-0.28},{"t":47.65,"g":-0.12},{"t":47.7,"g":-0.45},{"t":47.75,"g":-0.48},{"t":47.8,"g":-0.6},{"t":47.85,"g":-0.5},{"t":47.9,"g":-0.42},{"t":47.95,"g":-0.32},
{"t":48,"g":-0.1},{"t":48.05,"g":0.08},{"t":48.1,"g":0.2},{"t":48.15,"g":0.09},{"t":48.2,"g":0.05},{"t":48.25,"g":-0.05},{"t":48.3,"g":-0.2},{"t":48.35,"g":-0.45},{"t":48.4,"g":-0.5},{"t":48.45,"g":-0.55},{"t":48.5,"g":-0.62},{"t":48.55,"g":-0.75},{"t":48.6,"g":-0.8},{"t":48.65,"g":-0.6},{"t":48.7,"g":-0.52},{"t":48.75,"g":-0.45},{"t":48.8,"g":-0.35},{"t":48.85,"g":-0.25},{"t":48.9,"g":0.33},{"t":48.95,"g":0.32},
{"t":49,"g":-0.4},{"t":49.05,"g":-0.4},{"t":49.1,"g":-0.45},{"t":49.15,"g":-0.7},{"t":49.2,"g":-0.73},{"t":49.25,"g":-0.68},{"t":49.3,"g":-0.5},{"t":49.35,"g":-0.55},{"t":49.4,"g":-0.6},{"t":49.45,"g":-0.52},{"t":49.5,"g":-0.3},{"t":49.55,"g":-0.3},{"t":49.6,"g":-0.5},{"t":49.65,"g":-0.62},{"t":49.7,"g":-0.57},{"t":49.75,"g":0.36},{"t":49.8,"g":0.48},{"t":49.85,"g":0.43},{"t":49.9,"g":-0.07},{"t":49.95,"g":-0.26},
{"t":50,"g":-0.83}
]},
"mark": {"type": "point", "shape": "circle", "filled": false, "stroke": "black", "strokeWidth": 1.6, "size": 130, "opacity": 1},
"encoding": {
"x": {"field": "t", "type": "quantitative", "scale": {"domain": [-2, 52], "nice": false, "zero": false},
 "axis": {"values": [0, 10, 20, 30, 40, 50], "title": "Time [ns]", "grid": false, "domain": false, "tickSize": 16, "tickWidth": 3, "tickColor": "black", "labelFontSize": 38, "labelColor": "black", "labelPadding": 13, "labelFlush": false, "labelFont": "Liberation Sans", "labelExpr": "'' + datum.value", "titleFont": "Liberation Sans", "titleFontSize": 41, "titleFontWeight": "normal", "titleColor": "black", "titleY": 131, "titleBaseline": "alphabetic"}},
"y": {"field": "g", "type": "quantitative", "scale": {"domain": [-2.849, 1.795], "nice": false, "zero": false},
 "axis": {"values": [-2, -1, 0, 1], "title": "ΔG total [kcal/mol]", "grid": false, "domain": false, "tickSize": 16, "tickWidth": 3, "tickColor": "black", "labelFontSize": 38, "labelColor": "black", "labelAngle": -90, "labelAlign": "center", "labelBaseline": "bottom", "labelPadding": 14, "labelFlush": false, "labelFont": "Liberation Sans", "labelExpr": "'' + datum.value", "titleFont": "Liberation Sans", "titleFontSize": 41, "titleFontWeight": "normal", "titleColor": "black", "titleAngle": -90, "titleX": -105, "titleY": 476, "titleBaseline": "alphabetic", "titleAlign": "center"}}
}
}
